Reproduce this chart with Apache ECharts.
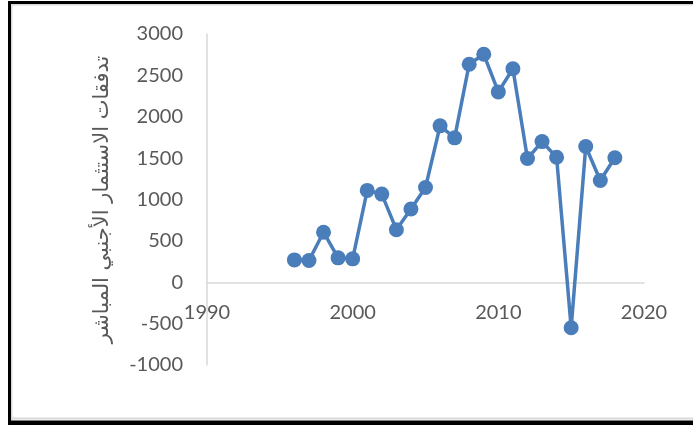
<!DOCTYPE html>
<html>
<head>
<meta charset="utf-8">
<script src="https://cdn.jsdelivr.net/npm/echarts@6/dist/echarts.min.js"></script>
<style>
  html, body { margin: 0; padding: 0; background: #ffffff; }
  #chart { width: 693px; height: 425px; }
</style>
</head>
<body>
<div id="chart"></div>
<script>
// Foreign direct investment inflows by year
const years = [1996, 1997, 1998, 1999, 2000, 2001, 2002, 2003, 2004, 2005, 2006, 2007,
               2008, 2009, 2010, 2011, 2012, 2013, 2014, 2015, 2016, 2017, 2018];
const fdiInflows = [270, 262, 605, 295, 283, 1110, 1065, 635, 885, 1145, 1890, 1745,
                    2635, 2755, 2300, 2580, 1495, 1700, 1510, -550, 1640, 1230, 1505];
const yAxisTitle = 'تدفقات الاستثمار الأجنبي المباشر';

const points = years.map((y, i) => [y, fdiInflows[i]]);

const chart = echarts.init(document.getElementById('chart'), null, { renderer: 'canvas' });

const labelStyle = { color: '#595959', fontFamily: 'Lato', fontSize: 20 };
const plain = v => String(v);

const Y_MIN = -1000, Y_MAX = 3000;
const GRID_TOP = 34, GRID_BOTTOM = 60, CHART_H = 425;
// lift the category axis from the bottom edge up to the zero line
const plotH = CHART_H - GRID_TOP - GRID_BOTTOM;
const zeroLift = plotH * (0 - Y_MIN) / (Y_MAX - Y_MIN);

chart.setOption({
  backgroundColor: '#ffffff',
  animation: false,
  graphic: [
    // outer frame
    { type: 'rect', shape: { x: 8, y: 1, width: 3, height: 424 }, style: { fill: '#000' } },
    { type: 'rect', shape: { x: 8, y: 1, width: 685, height: 3 }, style: { fill: '#000' } },
    { type: 'rect', shape: { x: 8, y: 420.5, width: 685, height: 4.5 }, style: { fill: '#000' } },
    // inner light border
    { type: 'rect', shape: { x: 11, y: 4, width: 682, height: 1.5 }, style: { fill: '#d9d9d9' } },
    { type: 'rect', shape: { x: 11, y: 4, width: 1.5, height: 416 }, style: { fill: '#d9d9d9' } },
    { type: 'rect', shape: { x: 11, y: 417.5, width: 682, height: 2 }, style: { fill: '#d9d9d9' } }
  ],
  grid: { left: 207, right: 49, top: GRID_TOP, bottom: GRID_BOTTOM },
  xAxis: {
    type: 'value',
    min: 1990,
    max: 2020,
    interval: 10,
    offset: -zeroLift,
    axisLine: { show: true, onZero: false, lineStyle: { color: '#d9d9d9', width: 1.5 } },
    axisTick: { show: false },
    splitLine: { show: false },
    axisLabel: Object.assign({ margin: 20, formatter: plain }, labelStyle)
  },
  yAxis: {
    type: 'value',
    min: Y_MIN,
    max: Y_MAX,
    interval: 500,
    name: yAxisTitle,
    nameLocation: 'middle',
    nameRotate: 90,
    nameGap: 94,
    nameTextStyle: { color: '#595959', fontFamily: 'DejaVu Sans', fontSize: 21 },
    axisLine: { show: true, lineStyle: { color: '#d9d9d9', width: 1.5 } },
    axisTick: { show: false },
    splitLine: { show: false },
    axisLabel: Object.assign({ margin: 24, formatter: plain }, labelStyle)
  },
  series: [{
    type: 'line',
    data: points,
    symbol: 'circle',
    symbolSize: 15,
    lineStyle: { color: '#4a7ebb', width: 3.5 },
    itemStyle: { color: '#4a7ebb' }
  }]
});
</script>
</body>
</html>
